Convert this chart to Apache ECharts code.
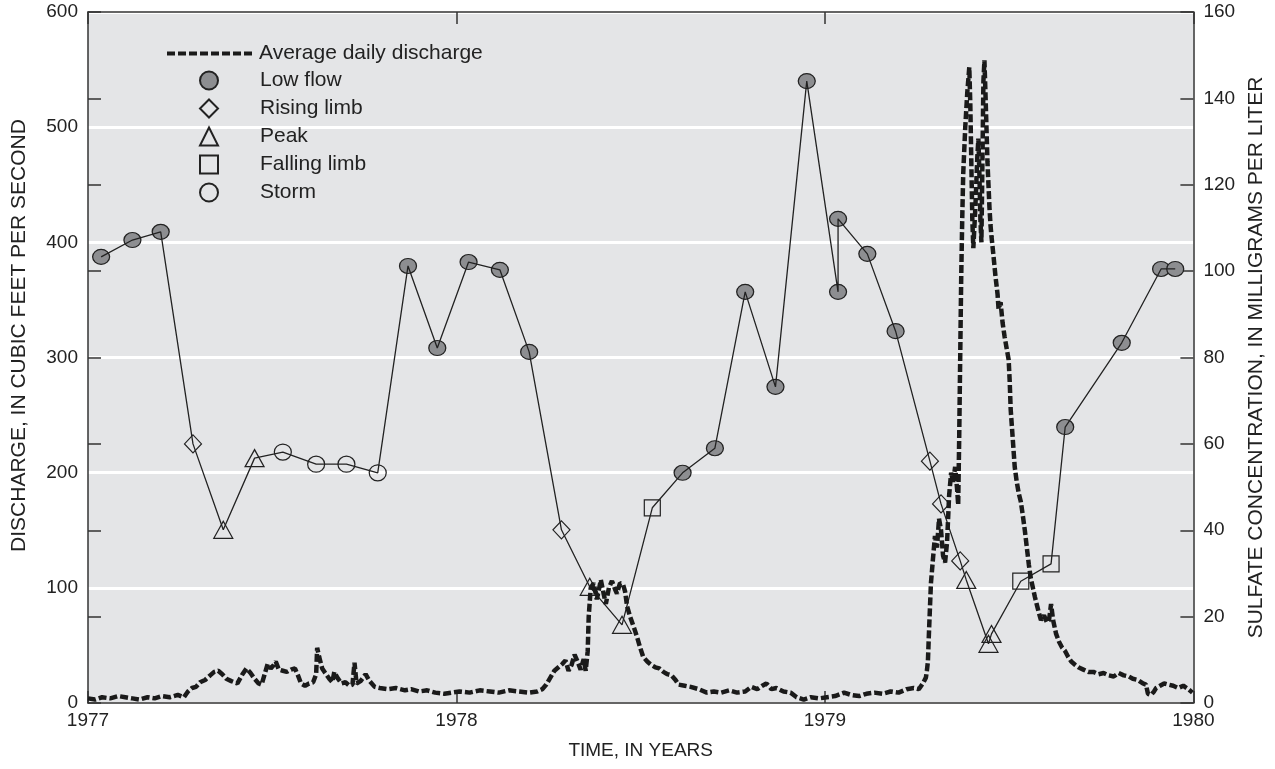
<!DOCTYPE html>
<html>
<head>
<meta charset="utf-8">
<script src="https://cdn.jsdelivr.net/npm/echarts@6/dist/echarts.min.js"></script>
<style>
  html, body { margin: 0; padding: 0; background: #ffffff; }
  #chart { width: 1275px; height: 769px; }
</style>
</head>
<body>
<div id="chart"></div>
<script>
// ---- Data (days since 1977-01-01) ----
const dischargeDay = [0,7,14,22,30,37,44,51,59,66,73,81,89,95,99,103,107,111,116,121,125,129,133,137,142,148,153,157,161,165,169,172,175,178,181,184,186,189,193,197,201,205,208,211,215,219,223,226,227,229,232,235,239,242,244,247,251,255,259,262,264,266,270,275,279,284,289,297,305,314,320,328,336,344,353,360,368,378,388,398,407,417,427,437,445,450,454,458,462,466,470,473,476,479,482,485,488,491,493,495,496,498,501,504,506,508,511,513,516,519,522,524,527,530,532,534,537,541,544,547,550,554,558,562,566,570,574,578,582,585,591,597,605,613,620,627,635,643,651,657,663,668,672,677,682,689,696,702,709,716,724,732,740,749,756,764,771,779,787,795,803,811,818,823,827,830,831,832,833,835,837,839,841,843,845,847,849,851,853,855,857,859,861,862,863,864,865,866,867,869,871,873,874,875,876,877,879,881,882,883,884,885,886,887,888,889,890,891,892,893,894,895,897,899,901,902,904,906,908,910,912,913,914,916,918,920,922,924,926,928,930,932,934,936,938,940,942,944,947,950,952,954,956,959,962,965,968,971,974,978,981,986,991,996,1001,1006,1011,1016,1021,1026,1031,1035,1040,1045,1048,1050,1053,1056,1058,1062,1066,1070,1075,1080,1085,1090,1094];
const dischargeCfs = [4,3,5,4,6,5,4,3,5,4,6,5,7,5,10,13,14,18,20,24,27,28,25,21,19,17,25,30,26,21,17,16,25,34,30,33,36,29,28,27,29,30,24,17,15,17,18,25,48,40,30,26,21,18,27,22,17,18,15,16,35,17,19,25,19,14,13,12,13,11,12,10,11,9,8,9,10,9,11,10,9,11,10,9,10,12,16,22,28,31,34,37,28,33,42,36,29,38,28,45,75,100,104,90,98,107,94,86,100,106,99,95,104,103,97,84,75,65,57,48,40,36,33,31,30,27,25,24,20,16,15,14,12,9,10,9,11,9,10,14,12,15,17,12,13,10,9,5,3,5,4,5,6,9,7,6,8,9,8,10,9,12,13,12,17,22,28,36,60,104,125,145,135,160,150,128,122,140,180,200,192,205,185,172,230,300,370,420,460,500,530,552,520,470,420,395,430,475,490,460,420,400,470,540,558,530,500,470,450,430,415,405,388,370,355,342,348,330,318,308,298,280,255,230,205,192,182,175,163,150,135,120,108,100,92,85,78,72,76,70,72,86,72,60,53,48,45,40,36,33,31,29,27,27,25,26,24,23,26,24,23,21,20,17,16,8,7,10,13,15,17,16,15,13,15,12,9];

const sampleDay = [13,44,72,104,134,165,193,226,256,287,317,346,377,408,437,469,497,529,559,589,621,651,681,712,743,743,772,800,834,845,864,870,892,895,924,954,968,1024,1063,1077];
const sulfateMgL = [103.3,107.2,109.1,60.0,40.1,56.7,58.1,55.3,55.3,53.3,101.2,82.2,102.1,100.3,81.3,40.1,26.9,18.1,45.2,53.3,59.0,95.2,73.2,144.0,95.2,112.1,104.0,86.1,56.0,46.1,32.9,28.5,13.7,16.0,28.2,32.2,63.9,83.4,100.5,100.5];
const sampleType = ['Low flow','Low flow','Low flow','Rising limb','Peak','Peak','Storm','Storm','Storm','Storm','Low flow','Low flow','Low flow','Low flow','Low flow','Rising limb','Peak','Peak','Falling limb','Low flow','Low flow','Low flow','Low flow','Low flow','Low flow','Low flow','Low flow','Low flow','Rising limb','Rising limb','Rising limb','Peak','Peak','Peak','Falling limb','Falling limb','Low flow','Low flow','Low flow','Low flow'];

const typeNames = ['Low flow','Rising limb','Peak','Falling limb','Storm'];
const dischargeName = 'Average daily discharge';
const firstYear = 1977;
const daysPerYear = 365;

// ---- Styles ----
const FONT = "'Liberation Sans', Arial, Helvetica, sans-serif";
const INK = '#222222';
const PLOT_BG = '#e4e5e7';
const symbolStyle = {
  'Low flow':    { symbol: 'circle',   size: [17, 15], fill: '#8d8e91' },
  'Rising limb': { symbol: 'diamond',  size: [17, 18], fill: 'rgba(0,0,0,0)' },
  'Peak':        { symbol: 'triangle', size: [19, 17], fill: 'rgba(0,0,0,0)' },
  'Falling limb':{ symbol: 'rect',     size: [16, 16], fill: 'rgba(0,0,0,0)' },
  'Storm':       { symbol: 'circle',   size: [17, 16], fill: 'rgba(0,0,0,0)' }
};

const chart = echarts.init(document.getElementById('chart'), null, { renderer: 'canvas' });

const axisLineStyle = { color: '#333333', width: 1.5 };
const yearLabel = v => String(firstYear + Math.round(v / daysPerYear));

const scatterSeries = typeNames.map(t => ({
  name: t,
  type: 'scatter',
  xAxisIndex: 0,
  yAxisIndex: 1,
  symbol: symbolStyle[t].symbol,
  symbolSize: symbolStyle[t].size,
  itemStyle: { color: symbolStyle[t].fill, borderColor: INK, borderWidth: 1.2, opacity: 1 },
  data: sampleDay.map((d, i) => sampleType[i] === t ? [d, sulfateMgL[i]] : null).filter(p => p),
  z: 2,
  silent: true
}));

const legendText = { fontSize: 21, color: INK, fontFamily: FONT };

const option = {
  animation: false,
  backgroundColor: '#ffffff',
  textStyle: { fontFamily: FONT },
  grid: { left: 88, right: 80, top: 12, bottom: 66, show: true, backgroundColor: PLOT_BG, borderWidth: 0 },
  legend: [
    {
      orient: 'vertical',
      left: 160,
      top: 38,
      itemWidth: 85,
      itemHeight: 17,
      selectedMode: false,
      textStyle: Object.assign({ padding: [0, 0, 0, 2] }, legendText),
      lineStyle: { width: 4 },
      data: [{ name: dischargeName, itemStyle: { opacity: 0 } }]
    },
    {
      orient: 'vertical',
      left: 194,
      top: 65,
      itemWidth: 18,
      itemHeight: 18,
      itemGap: 7,
      selectedMode: false,
      textStyle: Object.assign({ padding: [0, 0, 0, 37] }, legendText),
      data: typeNames
    }
  ],
  xAxis: [
    {
      type: 'value', min: 0, max: 1095, interval: 365, position: 'bottom',
      axisLine: { show: true, onZero: false, lineStyle: axisLineStyle },
      axisTick: { show: true, inside: true, length: 12, lineStyle: axisLineStyle },
      axisLabel: { formatter: yearLabel, fontSize: 19, color: INK, margin: 8, fontFamily: FONT },
      splitLine: { show: false },
      name: 'TIME, IN YEARS', nameLocation: 'middle', nameGap: 38,
      nameTextStyle: { fontSize: 19, color: INK, fontFamily: FONT }
    },
    {
      type: 'value', min: 0, max: 1095, interval: 365, position: 'top',
      axisLine: { show: true, onZero: false, lineStyle: axisLineStyle },
      axisTick: { show: true, inside: true, length: 12, lineStyle: axisLineStyle },
      axisLabel: { show: false },
      splitLine: { show: false }
    }
  ],
  yAxis: [
    {
      type: 'value', min: 0, max: 600, interval: 100, position: 'left',
      axisLine: { show: true, onZero: false, lineStyle: axisLineStyle },
      axisTick: { show: false },
      axisLabel: { fontSize: 19, color: INK, margin: 10, fontFamily: FONT },
      splitLine: { show: true, lineStyle: { color: '#ffffff', width: 3 } },
      name: 'DISCHARGE, IN CUBIC FEET PER SECOND', nameLocation: 'middle', nameRotate: 90, nameGap: 58,
      nameTextStyle: { fontSize: 21, color: INK, fontFamily: FONT, padding: [0, 0, 0, 44] }
    },
    {
      type: 'value', min: 0, max: 160, interval: 20, position: 'right',
      axisLine: { show: true, onZero: false, lineStyle: axisLineStyle },
      axisTick: { show: true, inside: true, length: 13, lineStyle: axisLineStyle },
      axisLabel: { fontSize: 19, color: INK, margin: 10, fontFamily: FONT },
      splitLine: { show: false },
      name: 'SULFATE CONCENTRATION, IN MILLIGRAMS PER LITER', nameLocation: 'middle', nameRotate: 90, nameGap: 48,
      nameTextStyle: { fontSize: 21, color: INK, fontFamily: FONT }
    },
    {
      type: 'value', min: 0, max: 160, interval: 20, position: 'left', offset: 0,
      axisLine: { show: false },
      axisTick: { show: true, inside: true, length: 13, lineStyle: axisLineStyle },
      axisLabel: { show: false },
      splitLine: { show: false }
    }
  ],
  series: [
    {
      name: dischargeName,
      type: 'line',
      xAxisIndex: 0, yAxisIndex: 0,
      symbol: 'none',
      data: dischargeDay.map((d, i) => [d, dischargeCfs[i]]),
      lineStyle: { color: '#1a1a1a', width: 4.5, type: [8, 3], cap: 'butt', join: 'bevel' },
      itemStyle: { color: '#1a1a1a' },
      z: 4,
      silent: true
    },
    {
      name: 'Sulfate concentration',
      type: 'line',
      xAxisIndex: 0, yAxisIndex: 1,
      symbol: 'none',
      data: sampleDay.map((d, i) => [d, sulfateMgL[i]]),
      lineStyle: { color: INK, width: 1.3 },
      z: 3,
      silent: true
    }
  ].concat(scatterSeries)
};

chart.setOption(option);
</script>
</body>
</html>
